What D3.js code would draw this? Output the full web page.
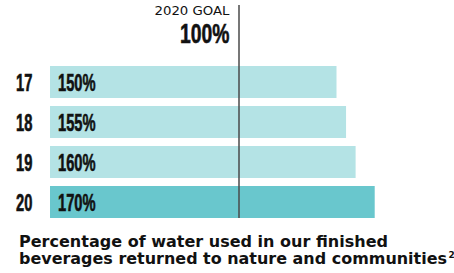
<!DOCTYPE html>
<html>
<head>
<meta charset="utf-8">
<script src="https://cdn.jsdelivr.net/npm/d3@7"></script>
<style>
  body { margin: 0; background: #fff; }
  svg { display: block; }
</style>
</head>
<body>
<svg id="chart" width="454" height="273"></svg>
<script>
var w = 454
var h = 273

var years = ["17", "18", "19", "20"]
var values = [150, 155, 160, 170]
var valueLabels = ["150%", "155%", "160%", "170%"]
var goal = 100
var goalLabel = "100%"
var goalTitle = "2020 GOAL"
var captionLines = ["Percentage of water used in our finished", "beverages returned to nature and communities"]

var cLight = "#b4e3e5"
var cDark = "#69c7cd"
var cLine = "#4a4a4a"
var cText = "#111"

var condensed = "'Liberation Sans', Arial, sans-serif"
var squeeze = 0.64

var svg = d3.select("#chart")

var x = d3.scaleLinear()
	.domain([0, 170])
	.range([50, 374.7])

var y = d3.scaleBand()
	.domain(years)
	.range([66, 218])
	.paddingInner(0.2)
	.paddingOuter(0)

// bars
svg.selectAll("rect.bar")
	.data(years)
	.enter()
	.append("rect")
	.attr("class", "bar")
	.attr("x", x(0))
	.attr("y", function(d) {return y(d);})
	.attr("width", function(d, i) {return x(values[i]) - x(0);})
	.attr("height", y.bandwidth())
	.attr("fill", function(d, i) {return i == years.length - 1 ? cDark : cLight;})

// year labels, squeezed sideways to look like a condensed face
svg.selectAll("text.year")
	.data(years)
	.enter()
	.append("text")
	.attr("class", "year")
	.text(function(d) {return d;})
	.attr("transform", function(d) {
		return "translate(16," + (y(d) + y.bandwidth() / 2 + 8.5) + ") scale(" + squeeze + ",1)";
	})
	.attr("font-family", condensed)
	.attr("font-weight", "bold")
	.attr("font-size", "23px")
	.attr("fill", cText)
	.attr("stroke", cText)
	.attr("stroke-width", 0.6)

// value labels
svg.selectAll("text.val")
	.data(valueLabels)
	.enter()
	.append("text")
	.attr("class", "val")
	.text(function(d) {return d;})
	.attr("transform", function(d, i) {
		return "translate(58," + (y(years[i]) + y.bandwidth() / 2 + 8.5) + ") scale(" + squeeze + ",1)";
	})
	.attr("font-family", condensed)
	.attr("font-weight", "bold")
	.attr("font-size", "23px")
	.attr("fill", cText)
	.attr("stroke", cText)
	.attr("stroke-width", 0.6)

// goal line
var gx = x(goal) - 2
svg.append("line")
	.attr("x1", gx)
	.attr("x2", gx)
	.attr("y1", 5)
	.attr("y2", y(years[years.length - 1]) + y.bandwidth())
	.attr("stroke", cLine)
	.attr("stroke-width", 1.5)

svg.append("text")
	.text(goalTitle)
	.attr("x", gx - 9.5)
	.attr("y", 15)
	.attr("text-anchor", "end")
	.attr("font-family", "'DejaVu Sans', sans-serif")
	.attr("font-size", "11.5px")
	.attr("textLength", 75)
	.attr("lengthAdjust", "spacingAndGlyphs")
	.attr("fill", cText)

svg.append("text")
	.text(goalLabel)
	.attr("transform", "translate(" + (gx - 9.5) + ",43) scale(0.69,1)")
	.attr("text-anchor", "end")
	.attr("font-family", condensed)
	.attr("font-weight", "bold")
	.attr("font-size", "28px")
	.attr("fill", cText)
	.attr("stroke", cText)
	.attr("stroke-width", 0.6)

// caption
var capWidths = [369, 428]
svg.selectAll("text.cap")
	.data(captionLines)
	.enter()
	.append("text")
	.attr("class", "cap")
	.attr("x", 19)
	.attr("y", function(d, i) {return 247 + i * 17;})
	.attr("font-family", "'DejaVu Sans', sans-serif")
	.attr("font-weight", "bold")
	.attr("font-size", "15.5px")
	.attr("textLength", function(d, i) {return capWidths[i];})
	.attr("lengthAdjust", "spacingAndGlyphs")
	.attr("fill", cText)
	.text(function(d) {return d;})

svg.append("text")
	.attr("x", 19 + capWidths[1] + 1.5)
	.attr("y", 258)
	.attr("font-family", "'DejaVu Sans', sans-serif")
	.attr("font-weight", "bold")
	.attr("font-size", "9px")
	.attr("fill", cText)
	.text("2")
</script>
</body>
</html>
